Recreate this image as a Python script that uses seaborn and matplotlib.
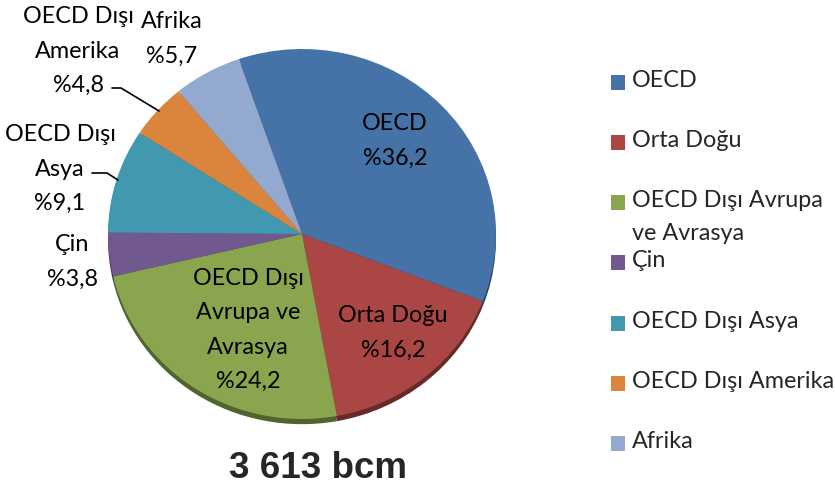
import matplotlib
matplotlib.use('Agg')
import matplotlib.pyplot as plt
import matplotlib.patches as mpatches
import numpy as np
import seaborn as sns

# data
regions = ['OECD', 'Orta Doğu', 'OECD Dışı Avrupa ve Avrasya', 'Çin',
           'OECD Dışı Asya', 'OECD Dışı Amerika', 'Afrika']
legend_labels = ['OECD', 'Orta Doğu', 'OECD Dışı Avrupa\nve Avrasya', 'Çin',
                 'OECD Dışı Asya', 'OECD Dışı Amerika', 'Afrika']
shares = [36.2, 16.2, 24.2, 3.8, 9.1, 4.8, 5.7]
slice_labels = ['OECD', 'Orta Doğu', 'OECD Dışı\nAvrupa ve\nAvrasya', 'Çin',
                'OECD Dışı\nAsya', 'OECD Dışı\nAmerika', 'Afrika']
total_label = '3 613 bcm'

colors = ['#4572A7', '#AA4643', '#89A54E', '#71588F', '#4198AF', '#DB843D', '#93A9CF']

# label centres in pixels (x, y from top) and leader lines
label_pos = [(395, 141), (393, 333), (248, 330), (72, 262),
             (60, 169), (78, 51), (172, 39)]
leaders = {4: [(92, 173), (107, 173), (118, 180)],
           5: [(112, 88), (121, 88), (159, 111)]}

W, H = 835, 491


def main():
    sns.set_style('white')
    plt.rcParams['font.family'] = ['Lato', 'DejaVu Sans']

    fig = plt.figure(figsize=(W / 100, H / 100), dpi=100)

    # pie axes: elliptical, slightly tilted look
    cx, cy, rx, ry = 302, 234, 194, 185
    pax = fig.add_axes([(cx - rx) / W, (H - cy - ry) / H, 2 * rx / W, 2 * ry / H])
    pal = sns.color_palette(colors)
    dark = [tuple(c * 0.6 for c in col) for col in pal]
    # rim underneath
    pax.pie(shares, colors=dark, startangle=109, counterclock=False,
            center=(0, -0.028), radius=1, wedgeprops=dict(linewidth=0))
    pax.pie(shares, colors=pal, startangle=109, counterclock=False,
            radius=1, wedgeprops=dict(linewidth=0))
    pax.set_aspect('auto')
    pax.set_xlim(-1, 1)
    pax.set_ylim(-1, 1)
    pax.axis('off')

    # overlay for text in pixel coords
    ax = fig.add_axes([0, 0, 1, 1])
    ax.set_xlim(0, W)
    ax.set_ylim(H, 0)
    ax.axis('off')

    for i, (name, val) in enumerate(zip(slice_labels, shares)):
        x, y = label_pos[i]
        txt = '{}\n%{}'.format(name, str(val).replace('.', ','))
        ax.text(x, y, txt, ha='center', va='center', fontsize=16.8,
                linespacing=1.78, color='black')
    for pts in leaders.values():
        xs, ys = zip(*pts)
        ax.plot(xs, ys, color='black', lw=1.2)

    ax.text(318, 468, total_label, ha='center', va='center', fontsize=26.5,
            fontweight='bold', family='Liberation Sans')

    # legend
    for i, (lab, col) in enumerate(zip(legend_labels, pal)):
        y = 82 + i * 60.3
        ax.add_patch(mpatches.Rectangle((611, y - 7.5), 14, 15, color=col, lw=0))
        ax.text(632, y - 12.5, lab, ha='left', va='top', fontsize=16.8,
                linespacing=1.72)

    fig.savefig('out.png', dpi=100)


if __name__ == '__main__':
    main()
